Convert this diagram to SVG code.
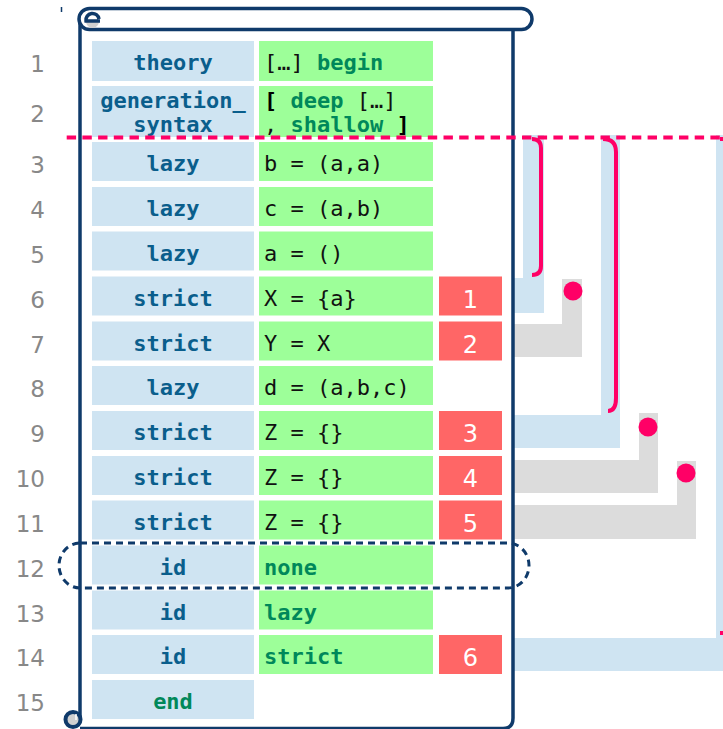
<svg xmlns="http://www.w3.org/2000/svg" width="723" height="729" viewBox="0 0 723 729">
  <style>
    .kw { fill: #cfe4f2; }
    .code { fill: #9dff99; }
    .num { fill: #ff6666; }
    .ln { font-family: "DejaVu Sans", "Liberation Sans", sans-serif; font-size: 23px; fill: #888888; text-anchor: end; }
    .k { font-family: "DejaVu Sans Mono", "Liberation Mono", monospace; font-size: 22px; font-weight: bold; fill: #0a5e8c; text-anchor: middle; }
    .kend { fill: #00885a; }
    .c { font-family: "DejaVu Sans Mono", "Liberation Mono", monospace; font-size: 22px; fill: #111111; }
    .g { font-weight: bold; fill: #00885a; }
    .b { font-weight: bold; fill: #000000; }
    .n { font-family: "DejaVu Sans", "Liberation Sans", sans-serif; font-size: 24px; fill: #ffffff; text-anchor: middle; }
    .band-b { fill: #cfe4f2; }
    .band-g { fill: #dcdcdc; }
    .bracket { fill: none; stroke: #ff0066; stroke-width: 4; stroke-linecap: butt; }
    .dot { fill: #ff0066; }
    .scroll { fill: none; stroke: #0f3a6a; stroke-width: 3.5; }
  </style>

  <!-- line numbers -->
  <g id="line-numbers">
    <text class="ln" x="45" y="72">1</text>
    <text class="ln" x="45" y="122">2</text>
    <text class="ln" x="45" y="173">3</text>
    <text class="ln" x="45" y="218">4</text>
    <text class="ln" x="45" y="262.5">5</text>
    <text class="ln" x="45" y="307.5">6</text>
    <text class="ln" x="45" y="352.5">7</text>
    <text class="ln" x="45" y="397">8</text>
    <text class="ln" x="45" y="442">9</text>
    <text class="ln" x="45" y="487">10</text>
    <text class="ln" x="45" y="531.5">11</text>
    <text class="ln" x="45" y="576.5">12</text>
    <text class="ln" x="45" y="621.5">13</text>
    <text class="ln" x="45" y="666">14</text>
    <text class="ln" x="45" y="711">15</text>
  </g>

  <!-- timeline connectors on the right -->
  <g id="connectors">
    <path class="band-b" d="M523 135 H544 V313 H513 V278 H523 Z"/>
    <path class="band-g" d="M562 279 H582 V357 H513 V324 H562 Z"/>
    <path class="band-b" d="M601 135 H620 V448 H513 V415 H601 Z"/>
    <path class="band-g" d="M639 413 H658 V493 H513 V460 H639 Z"/>
    <path class="band-g" d="M677 461 H696 V539 H513 V505 H677 Z"/>
    <path class="band-b" d="M716 135 H760 V671 H513 V638 H716 Z"/>
    <path class="bracket" d="M532 139 Q541 139 541 148 V266 Q541 275 532 275"/>
    <path class="bracket" d="M603 139 Q616 139 616 152 V398 Q616 411 608 411"/>
    <path class="bracket" d="M720 139 Q745 139 745 152 V620 Q745 633 720 633"/>
    <circle class="dot" cx="573" cy="291" r="9.5"/>
    <circle class="dot" cx="648" cy="427" r="9.5"/>
    <circle class="dot" cx="686" cy="473" r="9.5"/>
  </g>

  <!-- scroll outline -->
  <g id="scroll">
    <rect x="80" y="29" width="433" height="700" fill="#ffffff"/>
    <line x1="61.5" y1="7" x2="61.5" y2="12" stroke="#0f3a6a" stroke-width="1.5"/>
    <path class="scroll" d="M80 22 V719"/>
    <path class="scroll" d="M80 728.5 H503 Q513 728.5 513 718 V29"/>
    <rect x="79" y="8.5" width="453" height="21" rx="10.5" ry="10.5" fill="#ffffff" stroke="#0f3a6a" stroke-width="3.5"/>
    <!-- rolled top edge -->
    <path d="M99 21.5 A6.5 6.5 0 0 1 86 21.5 Z" fill="#d0d0d0"/>
    <path class="scroll" d="M100 21 H86 A6.5 6.5 0 0 1 99 19" stroke-width="3"/>
    <!-- rolled bottom edge -->
    <circle cx="73" cy="719.5" r="7.5" fill="#d0d0d0" stroke="#0f3a6a" stroke-width="4"/>
    <line x1="76" y1="714" x2="76" y2="720" stroke="#ffffff" stroke-width="1.5"/>
  </g>

  <!-- rows -->
  <g id="row-1">
    <rect class="kw" x="92" y="41" width="162" height="40"/>
    <rect class="code" x="259" y="41" width="174" height="40"/>
    <text class="k" x="173" y="70">theory</text>
    <text class="c" x="264" y="70">[…] <tspan class="g">begin</tspan></text>
  </g>
  <g id="row-2">
    <rect class="kw" x="92" y="86" width="162" height="51"/>
    <rect class="code" x="259" y="86" width="174" height="51"/>
    <text class="k" x="173" y="108">generation_</text>
    <text class="k" x="173" y="132">syntax</text>
    <text class="c" x="264" y="108"><tspan class="b">[</tspan> <tspan class="g">deep</tspan> […]</text>
    <text class="c" x="264" y="132">, <tspan class="g">shallow</tspan> <tspan class="b">]</tspan></text>
  </g>
  <g id="row-3">
    <rect class="kw" x="92" y="142" width="162" height="39"/>
    <rect class="code" x="259" y="142" width="174" height="39"/>
    <text class="k" x="173" y="171">lazy</text>
    <text class="c" x="264" y="171">b = (a,a)</text>
  </g>
  <g id="row-4">
    <rect class="kw" x="92" y="187" width="162" height="39"/>
    <rect class="code" x="259" y="187" width="174" height="39"/>
    <text class="k" x="173" y="216">lazy</text>
    <text class="c" x="264" y="216">c = (a,b)</text>
  </g>
  <g id="row-5">
    <rect class="kw" x="92" y="231.5" width="162" height="39"/>
    <rect class="code" x="259" y="231.5" width="174" height="39"/>
    <text class="k" x="173" y="260.5">lazy</text>
    <text class="c" x="264" y="260.5">a = ()</text>
  </g>
  <g id="row-6">
    <rect class="kw" x="92" y="276.5" width="162" height="39"/>
    <rect class="code" x="259" y="276.5" width="174" height="39"/>
    <rect class="num" x="439" y="276.5" width="63" height="39"/>
    <text class="k" x="173" y="305.5">strict</text>
    <text class="c" x="264" y="305.5">X = {a}</text>
    <text class="n" x="470.5" y="307.5">1</text>
  </g>
  <g id="row-7">
    <rect class="kw" x="92" y="321.5" width="162" height="39"/>
    <rect class="code" x="259" y="321.5" width="174" height="39"/>
    <rect class="num" x="439" y="321.5" width="63" height="39"/>
    <text class="k" x="173" y="350.5">strict</text>
    <text class="c" x="264" y="350.5">Y = X</text>
    <text class="n" x="470.5" y="352.5">2</text>
  </g>
  <g id="row-8">
    <rect class="kw" x="92" y="366" width="162" height="39"/>
    <rect class="code" x="259" y="366" width="174" height="39"/>
    <text class="k" x="173" y="395">lazy</text>
    <text class="c" x="264" y="395">d = (a,b,c)</text>
  </g>
  <g id="row-9">
    <rect class="kw" x="92" y="411" width="162" height="39"/>
    <rect class="code" x="259" y="411" width="174" height="39"/>
    <rect class="num" x="439" y="411" width="63" height="39"/>
    <text class="k" x="173" y="440">strict</text>
    <text class="c" x="264" y="440">Z = {}</text>
    <text class="n" x="470.5" y="442">3</text>
  </g>
  <g id="row-10">
    <rect class="kw" x="92" y="456" width="162" height="39"/>
    <rect class="code" x="259" y="456" width="174" height="39"/>
    <rect class="num" x="439" y="456" width="63" height="39"/>
    <text class="k" x="173" y="485">strict</text>
    <text class="c" x="264" y="485">Z = {}</text>
    <text class="n" x="470.5" y="487">4</text>
  </g>
  <g id="row-11">
    <rect class="kw" x="92" y="500.5" width="162" height="39"/>
    <rect class="code" x="259" y="500.5" width="174" height="39"/>
    <rect class="num" x="439" y="500.5" width="63" height="39"/>
    <text class="k" x="173" y="529.5">strict</text>
    <text class="c" x="264" y="529.5">Z = {}</text>
    <text class="n" x="470.5" y="531.5">5</text>
  </g>
  <g id="row-12">
    <rect class="kw" x="92" y="545.5" width="162" height="39"/>
    <rect class="code" x="259" y="545.5" width="174" height="39"/>
    <text class="k" x="173" y="574.5">id</text>
    <text class="c g" x="264" y="574.5">none</text>
  </g>
  <g id="row-13">
    <rect class="kw" x="92" y="590.5" width="162" height="39"/>
    <rect class="code" x="259" y="590.5" width="174" height="39"/>
    <text class="k" x="173" y="619.5">id</text>
    <text class="c g" x="264" y="619.5">lazy</text>
  </g>
  <g id="row-14">
    <rect class="kw" x="92" y="635" width="162" height="39"/>
    <rect class="code" x="259" y="635" width="174" height="39"/>
    <rect class="num" x="439" y="635" width="63" height="39"/>
    <text class="k" x="173" y="664">id</text>
    <text class="c g" x="264" y="664">strict</text>
    <text class="n" x="470.5" y="666">6</text>
  </g>
  <g id="row-15">
    <rect class="kw" x="92" y="680" width="162" height="39"/>
    <text class="k kend" x="173" y="709">end</text>
  </g>

  <!-- highlight around row 12 -->
  <g id="highlight">
    <path d="M80 543 H508 A21 22.5 0 0 1 508 588 H80 A21 22.5 0 0 1 80 543 Z" fill="none" stroke="#0f3a6a" stroke-width="3" stroke-dasharray="7 5"/>
  </g>

  <!-- boundary marker -->
  <g id="boundary">
    <line x1="66.7" y1="137.5" x2="723" y2="137.5" stroke="#ff0066" stroke-width="4" stroke-dasharray="9.4 6.3"/>
  </g>
</svg>
